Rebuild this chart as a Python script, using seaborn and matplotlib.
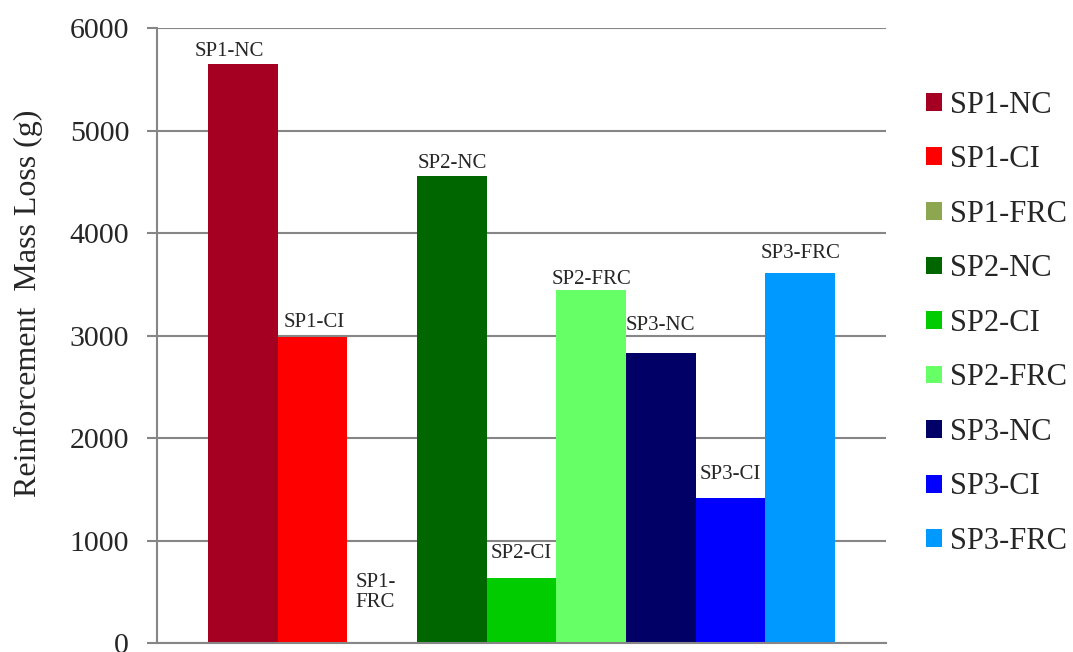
import pandas as pd
import matplotlib
matplotlib.use("Agg")
import matplotlib.pyplot as plt
import seaborn as sns

# data
specimens = ["SP1-NC", "SP1-CI", "SP1-FRC",
             "SP2-NC", "SP2-CI", "SP2-FRC",
             "SP3-NC", "SP3-CI", "SP3-FRC"]
mass_loss = [5650, 2985, 0, 4556, 632, 3446, 2829, 1413, 3610]
bar_colors = ["#A50021", "#FF0000", "#8DA650",
              "#006600", "#00CC00", "#66FF66",
              "#000066", "#0000FF", "#0099FF"]
y_ticks = [0, 1000, 2000, 3000, 4000, 5000, 6000]

# label nudges (points) like the hand-placed Excel labels
label_dx = [-9.5, 1, -4.5, 0, 0, 0, 0, 0, 0]
label_dy = [6, 7, 22, 6, 14.5, 4.5, 16.5, 13.5, 10.5]

df = pd.DataFrame({"group": [""] * len(specimens),
                   "specimen": specimens,
                   "loss": mass_loss})

sns.set_style("white")
plt.rcParams["font.family"] = ["Liberation Serif", "DejaVu Serif"]

fig = plt.figure(figsize=(10.73, 6.52), dpi=100)
ax = fig.add_axes([0.1463, 0.0138, 0.6794, 0.9432])

sns.barplot(data=df, x="group", y="loss", hue="specimen",
            hue_order=specimens, palette=dict(zip(specimens, bar_colors)),
            width=0.86, saturation=1, linewidth=0, edgecolor="none",
            ax=ax, legend=True)

grid_c = "#868686"
ax.set_ylim(0, 6000)
ax.set_yticks(y_ticks)
ax.set_yticklabels([str(t) for t in y_ticks], fontsize=21.5)
ax.yaxis.grid(True, color=grid_c, linewidth=1.5)
ax.set_axisbelow(True)
ax.tick_params(axis="y", direction="out", length=7, width=1.5, color=grid_c,
               left=True, pad=13)
ax.tick_params(axis="x", bottom=False, labelbottom=False)
ax.set_xlabel("")
ax.set_ylabel("Reinforcement  Mass Loss (g)", fontsize=23)
ax.yaxis.set_label_coords(-0.157, 0.553)
for side in ["top", "right"]:
    ax.spines[side].set_visible(False)
for side in ["left", "bottom"]:
    ax.spines[side].set_color(grid_c)
    ax.spines[side].set_linewidth(1.5)

# labels on the bars
for cont, name, val, dx, dy in zip(ax.containers, specimens, mass_loss,
                                   label_dx, label_dy):
    p = cont.patches[0]
    xc = p.get_x() + p.get_width() / 2
    if val > 0:
        ax.annotate(name, (xc, p.get_height()), xytext=(dx, dy),
                    textcoords="offset points", ha="center", va="baseline",
                    fontsize=15)
    else:
        ax.annotate(name.replace("-", "-\n"), (xc, 0), xytext=(dx, dy),
                    textcoords="offset points", ha="center", va="bottom",
                    fontsize=15, multialignment="left", linespacing=1.1)

handles, labels = ax.get_legend_handles_labels()
ax.legend(handles, labels, loc="upper left", bbox_to_anchor=(1.038, 0.918),
          frameon=False, fontsize=22, handlelength=0.52, handleheight=0.52,
          handletextpad=0.26, labelspacing=0.836, borderaxespad=0)

fig.savefig("out.png", dpi=100)
